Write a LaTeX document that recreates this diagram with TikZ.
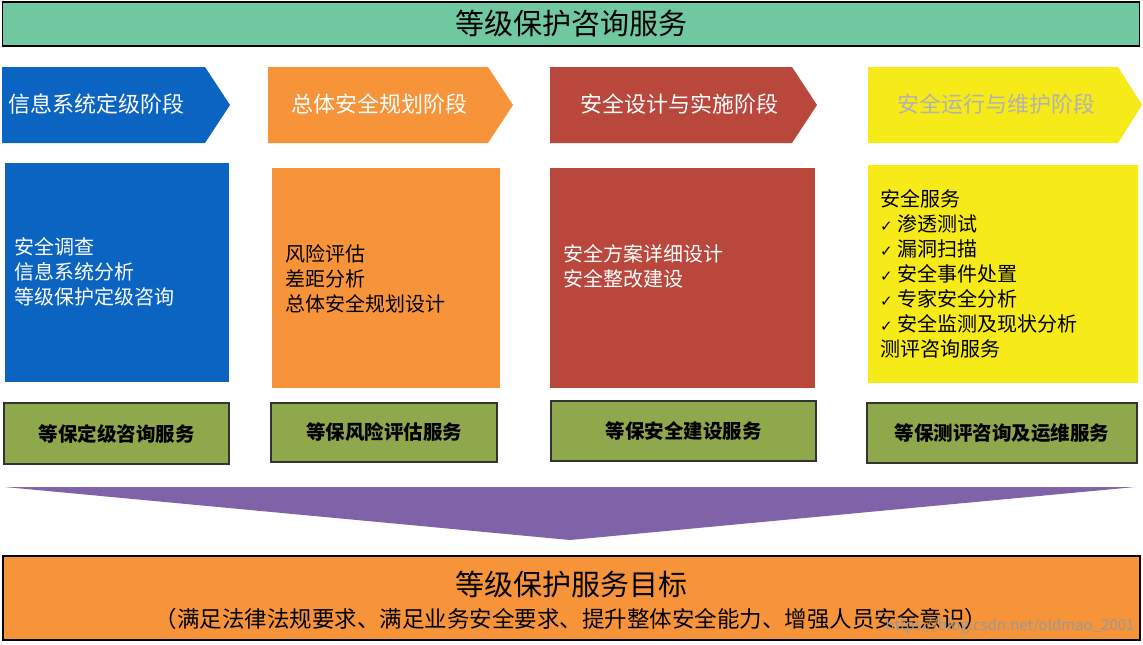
\documentclass[tikz,border=0pt]{standalone}
\usepackage{fontspec}
\setmainfont{Noto Sans CJK SC}
\newfontfamily\chkfont{DejaVu Sans}
\begin{document}
\begin{tikzpicture}[x=1pt,y=-1pt,
  chev/.style={font=\fontsize{22}{26}\selectfont, anchor=west, inner sep=0pt},
  body/.style={font=\fontsize{20}{25}\selectfont, anchor=west, align=left, inner sep=0pt},
  svc/.style={draw=black!80, line width=2.5pt, fill=svcgreen, font=\bfseries\fontsize{19.5}{22}\selectfont}]
\definecolor{svcgreen}{HTML}{8FA84B}
\definecolor{bl}{HTML}{0B64C2}
\definecolor{orr}{HTML}{F7943A}
\definecolor{rd}{HTML}{B9473B}
\definecolor{yl}{HTML}{F6EA18}
\definecolor{topgreen}{HTML}{70C8A0}
\definecolor{purp}{HTML}{8062A8}
\useasboundingbox (0,0) rectangle (1143,645);
\fill[white] (0,0) rectangle (1143,645);
% banner
\node[draw=black, line width=1.5pt, fill=topgreen, minimum width=1137pt, minimum height=44pt, font=\fontsize{29}{32}\selectfont] (top) at (571,24) {等级保护咨询服务};
% chevrons
\fill[bl] (2,67) -- (205,67) -- (230,105) -- (205,143) -- (2,143) -- cycle;
\node[chev, text=white] (c1) at (8,104) {信息系统定级阶段};
\fill[orr] (268,67) -- (488,67) -- (513,105) -- (488,143) -- (268,143) -- cycle;
\node[chev, text=white] (c2) at (291,104) {总体安全规划阶段};
\fill[rd] (550,67) -- (792,67) -- (817,105) -- (792,143) -- (550,143) -- cycle;
\node[chev, text=white] (c3) at (580,104) {安全设计与实施阶段};
\fill[yl] (868,67) -- (1118,67) -- (1142,105) -- (1118,143) -- (868,143) -- cycle;
\node[chev, text=black!30] (c4) at (897,104) {安全运行与维护阶段};
% bodies
\fill[bl] (5,163) rectangle (229,382);
\node[body, text=white] (b1) at (14,272) {安全调查\\信息系统分析\\等级保护定级咨询};
\fill[orr] (272,168) rectangle (500,388);
\node[body] (b2) at (285,279) {风险评估\\差距分析\\总体安全规划设计};
\fill[rd] (550,168) rectangle (815,388);
\node[body, text=white] (b3) at (563,266) {安全方案详细设计\\安全整改建设};
\fill[yl] (868,165) rectangle (1138,383);
\node[body] (b4) at (880,274) {安全服务\\{\chkfont\fontsize{15}{17}\selectfont ✓} 渗透测试\\{\chkfont\fontsize{15}{17}\selectfont ✓} 漏洞扫描\\{\chkfont\fontsize{15}{17}\selectfont ✓} 安全事件处置\\{\chkfont\fontsize{15}{17}\selectfont ✓} 专家安全分析\\{\chkfont\fontsize{15}{17}\selectfont ✓} 安全监测及现状分析\\测评咨询服务};
% services
\node[svc, minimum width=225pt, minimum height=61pt] (s1) at (116.5,433.5) {等保定级咨询服务};
\node[svc, minimum width=226pt, minimum height=59pt] (s2) at (384,432.5) {等保风险评估服务};
\node[svc, minimum width=265pt, minimum height=60pt] (s3) at (683.5,431) {等保安全建设服务};
\node[svc, minimum width=270pt, minimum height=60pt] (s4) at (1002,433) {等保测评咨询及运维服务};
% triangle
\fill[purp] (5,487) -- (1135,487) -- (570,540) -- cycle;
% goal
\node[draw=black, line width=1.5pt, fill=orr, minimum width=1137pt, minimum height=84pt] (goal) at (571.5,598) {};
\node[font=\fontsize{29}{32}\selectfont] (g1) at (571,584) {等级保护服务目标};
\node[font=\fontsize{22.5}{26}\selectfont] (g2) at (571,619) {（满足法律法规要求、满足业务安全要求、提升整体安全能力、增强人员安全意识）};
\node[font=\fontsize{15}{17}\selectfont, text=black!40, anchor=east] (wm) at (1138,626) {https://blog.csdn.net/oldmao\_2001};
\end{tikzpicture}
\end{document}
